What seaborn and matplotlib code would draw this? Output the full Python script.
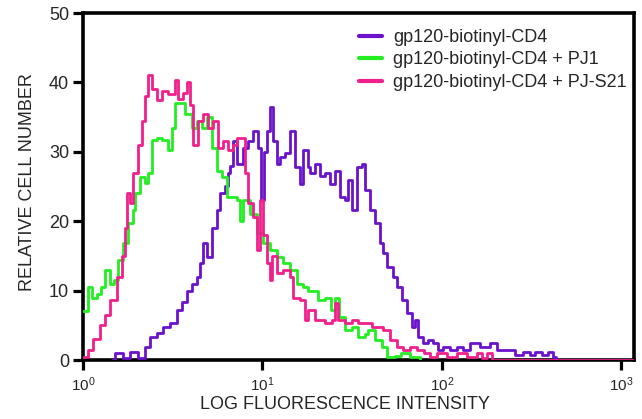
import matplotlib
matplotlib.use("Agg")
import matplotlib.pyplot as plt
import numpy as np
import pandas as pd
import seaborn as sns
from matplotlib.ticker import LogFormatterSciNotation, NullLocator, FixedLocator

# ---- data (fluorescence intensity, relative cell number) ----
cd4_x = [1.451, 1.508, 1.608, 1.671, 1.759, 1.827, 1.949, 2.025, 2.132, 2.215, 2.362, 2.585,
         2.791, 3.052, 3.339, 3.560, 3.796, 4.048, 4.316, 4.486, 4.661, 4.907, 5.233, 5.579,
         5.798, 6.182, 6.424, 6.592, 6.849, 7.209, 7.787, 8.302, 8.852, 9.438, 9.809, 10.19,
         10.60, 11.01, 11.44, 12.04, 12.52, 13.35, 14.23, 15.18, 16.18, 16.81, 17.93, 18.39,
         19.61, 20.91, 22.30, 23.77, 25.34, 27.03, 28.82, 29.95, 31.52, 33.61, 35.84, 37.24,
         39.71, 42.34, 45.15, 46.93, 49.39, 53.33, 56.15, 59.87, 63.83, 68.06, 70.73, 73.49,
         78.38, 83.56, 89.10, 95.00, 101.3, 110.8, 121.2, 130.9, 143.2, 162.8, 185.1, 202.5,
         248.6, 255.1, 282.7, 309.3, 329.8, 360.7, 389.5, 415.3, 431.6]
cd4_y = [0, 1.0, 1.0, 0.3, 0.3, 1.2, 1.2, 0.3, 0.3, 1.9, 3.3, 3.9,
         4.8, 5.3, 7.2, 8.4, 10.0, 11.0, 12.0, 14.0, 16.8, 14.8, 19.0, 21.6,
         24.0, 25.0, 27.0, 28.0, 31.6, 28.3, 30.6, 31.6, 33.0, 30.6, 23.0, 30.0,
         33.0, 36.4, 31.6, 28.3, 29.2, 29.8, 33.0, 27.8, 25.4, 30.2, 27.8, 27.0,
         28.3, 26.5, 27.0, 25.4, 27.3, 23.5, 23.0, 26.0, 21.6, 27.8, 28.3, 24.5,
         21.6, 19.7, 16.8, 15.4, 13.4, 12.0, 10.5, 8.6, 6.8, 4.7, 5.8, 3.3,
         2.4, 2.9, 2.4, 1.4, 1.9, 1.4, 1.9, 1.4, 2.4, 1.9, 2.4, 1.4,
         1.4, 0.7, 1.1, 0.7, 1.1, 0.7, 1.1, 0.4, 0]

pj1_x = [1.000, 1.066, 1.123, 1.197, 1.260, 1.326, 1.414, 1.488, 1.566, 1.671, 1.781, 1.899,
         1.948, 2.077, 2.215, 2.302, 2.423, 2.585, 2.755, 2.976, 3.131, 3.254, 3.470, 3.699,
         4.045, 4.312, 4.597, 4.902, 5.227, 5.573, 5.942, 6.336, 6.849, 7.209, 7.493, 7.788,
         8.509, 9.320, 10.06, 11.01, 12.04, 13.01, 14.23, 15.56, 16.82, 17.93, 18.87, 20.40,
         22.30, 24.11, 25.34, 26.64, 28.82, 31.52, 34.04, 37.24, 38.68, 42.31, 46.28, 49.39,
         54.72, 59.03, 66.31, 75.40]
pj1_y = [7.0, 10.5, 9.0, 9.5, 10.5, 13.0, 11.0, 11.5, 14.4, 16.8, 19.7, 21.6,
         24.0, 26.3, 25.5, 27.0, 31.7, 32.0, 31.7, 30.2, 33.5, 37.0, 37.0, 35.5,
         33.5, 34.5, 33.5, 35.0, 30.6, 27.3, 26.3, 23.5, 23.5, 23.0, 20.0, 23.0,
         21.0, 18.3, 16.8, 15.8, 14.8, 14.0, 13.0, 11.0, 10.5, 10.0, 10.0, 8.6,
         9.0, 7.2, 9.0, 6.2, 4.3, 4.7, 3.3, 3.8, 4.3, 2.9, 1.9, 0.4,
         0.6, 1.0, 0.4, 0]

pjs21_x = [1.000, 1.066, 1.137, 1.244, 1.326, 1.414, 1.547, 1.649, 1.714, 1.759, 1.827, 1.899,
           2.025, 2.132, 2.215, 2.302, 2.423, 2.585, 2.755, 2.976, 3.254, 3.382, 3.606, 3.796,
           3.945, 4.101, 4.372, 4.661, 4.971, 5.300, 5.651, 6.025, 6.424, 6.849, 7.209, 7.686,
           7.988, 8.302, 8.852, 9.320, 9.685, 10.06, 10.60, 11.01, 11.30, 12.04, 13.01, 14.23,
           14.79, 16.18, 17.25, 17.93, 19.61, 22.30, 24.39, 25.34, 26.34, 28.82, 31.52, 34.04,
           37.24, 40.74, 44.01, 46.93, 49.39, 51.32, 56.15, 60.62, 66.31, 72.53, 79.35, 85.73,
           93.78, 106.6, 121.2, 137.8, 156.7, 167.1, 178.1, 190.0, 1174.0]
pjs21_y = [0.5, 1.5, 3.0, 5.0, 6.5, 8.6, 12.0, 15.0, 19.0, 24.0, 22.6, 27.0,
           31.0, 34.5, 38.0, 41.0, 39.0, 37.4, 38.8, 38.4, 40.3, 37.6, 38.5, 40.0,
           36.7, 31.0, 34.5, 35.5, 33.5, 34.5, 30.6, 31.6, 30.2, 31.0, 32.0, 32.0,
           27.0, 22.6, 20.6, 15.8, 23.0, 18.0, 14.0, 11.5, 15.0, 12.5, 13.0, 12.0,
           9.0, 8.6, 5.8, 7.2, 5.8, 5.3, 5.8, 8.2, 5.8, 5.3, 5.8, 5.3,
           5.3, 4.7, 4.7, 4.3, 4.3, 2.9, 1.9, 1.4, 1.9, 1.4, 1.0, 0.4,
           1.0, 0.4, 1.0, 0.4, 1.0, 0.3, 1.0, 0, 0]

labels = ["gp120-biotinyl-CD4", "gp120-biotinyl-CD4 + PJ1", "gp120-biotinyl-CD4 + PJ-S21"]
colors = ["#6a12cc", "#22ee22", "#f01f8c"]
x_ticks = [1, 10, 100, 1000]
y_ticks = [0, 10, 20, 30, 40, 50]

df = pd.concat([
    pd.DataFrame({"intensity": cd4_x, "count": cd4_y, "sample": labels[0]}),
    pd.DataFrame({"intensity": pj1_x, "count": pj1_y, "sample": labels[1]}),
    pd.DataFrame({"intensity": pjs21_x, "count": pjs21_y, "sample": labels[2]}),
], ignore_index=True)

sns.set_style("ticks")
plt.rcParams["font.family"] = ["Liberation Sans", "DejaVu Sans"]
plt.rcParams["mathtext.fontset"] = "custom"
plt.rcParams["mathtext.rm"] = "Liberation Sans"

fig = plt.figure(figsize=(6.42, 4.19), dpi=100)
ax = fig.add_axes([83 / 642, 1 - 360 / 419, (634 - 83) / 642, (360 - 13) / 419])

sns.lineplot(data=df, x="intensity", y="count", hue="sample", hue_order=labels,
             palette=colors, estimator=None, sort=True, drawstyle="steps-post",
             linewidth=2.0, ax=ax, legend=True)
for ln in ax.get_lines():
    ln.set_zorder(3)

ax.set_xscale("log")
ax.set_xlim(1, 1174)
ax.set_ylim(0, 50)
ax.xaxis.set_major_locator(FixedLocator(x_ticks))
ax.xaxis.set_major_formatter(LogFormatterSciNotation())
ax.xaxis.set_minor_locator(NullLocator())
ax.set_yticks(y_ticks)

for s in ax.spines.values():
    s.set_linewidth(2.6)
    s.set_color("black")
    s.set_visible(True)

ax.tick_params(axis="both", which="major", direction="out", length=7, width=2.3, color="black")
ax.tick_params(axis="y", labelsize=13, pad=3)
ax.tick_params(axis="x", labelsize=11, pad=4)

ax.set_xlabel("LOG FLUORESCENCE INTENSITY", fontsize=13)
ax.set_ylabel("RELATIVE CELL NUMBER", fontsize=13)
ax.xaxis.set_label_coords((345 - 83) / 551, (360 - 396) / 347)
ax.yaxis.set_label_coords((36 - 83) / 551, (360 - 182) / 347)

handles, labs = ax.get_legend_handles_labels()
leg = ax.legend(handles, labs, loc="upper left", bbox_to_anchor=(359 / 642, 1 - 29 / 419),
                bbox_transform=fig.transFigure, frameon=False, fontsize=13,
                handlelength=1.25, handletextpad=0.65, labelspacing=0.3, borderpad=0,
                borderaxespad=0)
for h in leg.get_lines():
    h.set_linewidth(3)

fig.savefig("out.png", dpi=100)
